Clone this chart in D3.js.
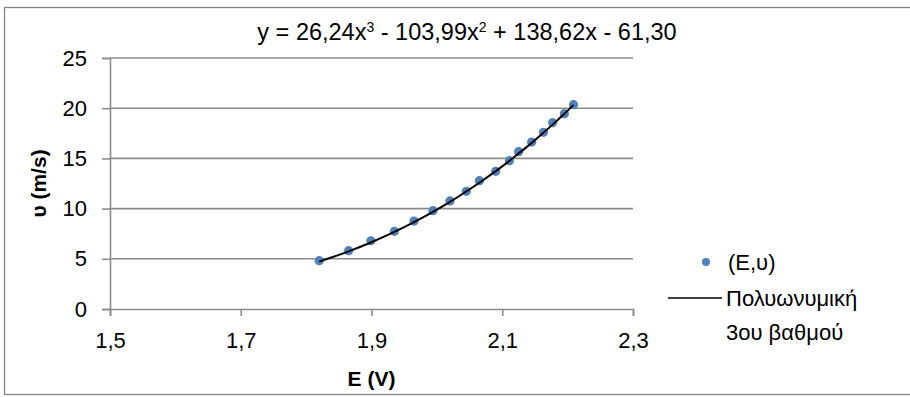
<!DOCTYPE html>
<html>
<head>
<meta charset="utf-8">
<script src="https://cdn.jsdelivr.net/npm/d3@7"></script>
<style>
  body { margin: 0; background: #fff; }
  text { font-family: "Liberation Sans", Arial, sans-serif; fill: #000; }
</style>
</head>
<body>
<div id="chart"></div>
<script>
// measured values (E in V, u in m/s)
var voltages = [1.820, 1.865, 1.899, 1.935, 1.965, 1.994, 2.020, 2.045, 2.065, 2.090, 2.111, 2.125, 2.145, 2.163, 2.177, 2.195, 2.209];
var speeds   = [4.81, 5.81, 6.80, 7.74, 8.76, 9.79, 10.76, 11.72, 12.78, 13.71, 14.77, 15.67, 16.63, 17.60, 18.56, 19.45, 20.35];
// trendline coefficients from the equation: a3, a2, a1, a0
var coefs = [26.24, -103.99, 138.62, -61.30];
var xTicks = [1.5, 1.7, 1.9, 2.1, 2.3];
var yTicks = [0, 5, 10, 15, 20, 25];
var legendNames = ["(E,υ)", "Πολυωνυμική", "3ου βαθμού"];

var W = 910, H = 397;
var margin = { top: 58, right: 277, bottom: 88, left: 110 },
    width = W - margin.left - margin.right,
    height = H - margin.top - margin.bottom;

var svg = d3.select("#chart").append("svg")
    .attr("width", W)
    .attr("height", H);

// outer frame (right edge runs off the picture)
svg.append("rect")
    .attr("x", 4.5).attr("y", 7.5)
    .attr("width", 910).attr("height", 387)
    .attr("fill", "none")
    .attr("stroke", "#868686")
    .attr("stroke-width", 1.3);

var g = svg.append("g")
    .attr("transform", "translate(" + margin.left + "," + margin.top + ")");

var x = d3.scaleLinear().domain([1.5, 2.3]).range([0, width]);
var y = d3.scaleLinear().domain([0, 25]).range([height, 0]);

var fmt = function (d) { return d3.format(".1f")(d).replace(".", ","); };

// gridlines
g.selectAll(".grid")
    .data(yTicks.filter(function (d) { return d > 0; }))
    .enter().append("line")
    .attr("x1", 0).attr("x2", width)
    .attr("y1", function (d) { return y(d); })
    .attr("y2", function (d) { return y(d); })
    .attr("stroke", "#8c8c8c")
    .attr("stroke-width", 1.6);

// y axis
var yAxis = g.append("g")
    .call(d3.axisLeft(y).tickValues(yTicks).tickSize(8).tickPadding(15));
// x axis
var xAxis = g.append("g")
    .attr("transform", "translate(0," + height + ")")
    .call(d3.axisBottom(x).tickValues(xTicks).tickFormat(fmt).tickSize(7).tickPadding(16));

[yAxis, xAxis].forEach(function (ax) {
    ax.select(".domain").attr("stroke", "#8c8c8c").attr("stroke-width", 1.6);
    ax.selectAll(".tick line").attr("stroke", "#8c8c8c").attr("stroke-width", 1.6);
    ax.selectAll(".tick text")
        .style("font-family", "'Liberation Sans', Arial, sans-serif")
        .style("font-size", "22px")
        .attr("fill", "#000");
});

// trendline (3rd order polynomial shown in title)
function poly(v) {
    return coefs[0] * v * v * v + coefs[1] * v * v + coefs[2] * v + coefs[3];
}
var line = d3.line()
    .x(function (d) { return x(d); })
    .y(function (d) { return y(poly(d)); })
    .curve(d3.curveMonotoneX);

// points
g.selectAll(".dot")
    .data(voltages)
    .enter().append("circle")
    .attr("class", "dot")
    .attr("cx", function (d) { return x(d); })
    .attr("cy", function (d, i) { return y(speeds[i]); })
    .attr("r", 4.6)
    .attr("fill", "#4f81bd");

g.append("path")
    .datum(voltages)
    .attr("d", line)
    .attr("fill", "none")
    .attr("stroke", "#000")
    .attr("stroke-width", 2);

// title / equation
var title = svg.append("text")
    .attr("x", 467).attr("y", 40)
    .attr("text-anchor", "middle")
    .style("font-size", "23.5px");
title.append("tspan").text("y = 26,24x");
title.append("tspan").attr("baseline-shift", "super").style("font-size", "14px").text("3");
title.append("tspan").text(" - 103,99x");
title.append("tspan").attr("baseline-shift", "super").style("font-size", "14px").text("2");
title.append("tspan").text(" + 138,62x - 61,30");

// axis titles
svg.append("text")
    .attr("x", margin.left + width / 2).attr("y", 386)
    .attr("text-anchor", "middle")
    .style("font-size", "21px").style("font-weight", "bold")
    .text("E (V)");
svg.append("text")
    .attr("transform", "translate(46," + (margin.top + height / 2) + ") rotate(-90)")
    .attr("text-anchor", "middle")
    .style("font-size", "21px").style("font-weight", "bold")
    .text("υ (m/s)");

// legend
var lg = svg.append("g").attr("transform", "translate(668,0)");
lg.append("circle").attr("cx", 38).attr("cy", 262).attr("r", 4).attr("fill", "#4f81bd");
lg.append("text").attr("x", 60).attr("y", 270).style("font-size", "22px").text(legendNames[0]);
lg.append("line").attr("x1", 0).attr("x2", 54).attr("y1", 298).attr("y2", 298)
    .attr("stroke", "#000").attr("stroke-width", 1.6);
lg.append("text").attr("x", 58).attr("y", 306).style("font-size", "22px").text(legendNames[1]);
lg.append("text").attr("x", 58).attr("y", 340).style("font-size", "22px").text(legendNames[2]);
</script>
</body>
</html>
